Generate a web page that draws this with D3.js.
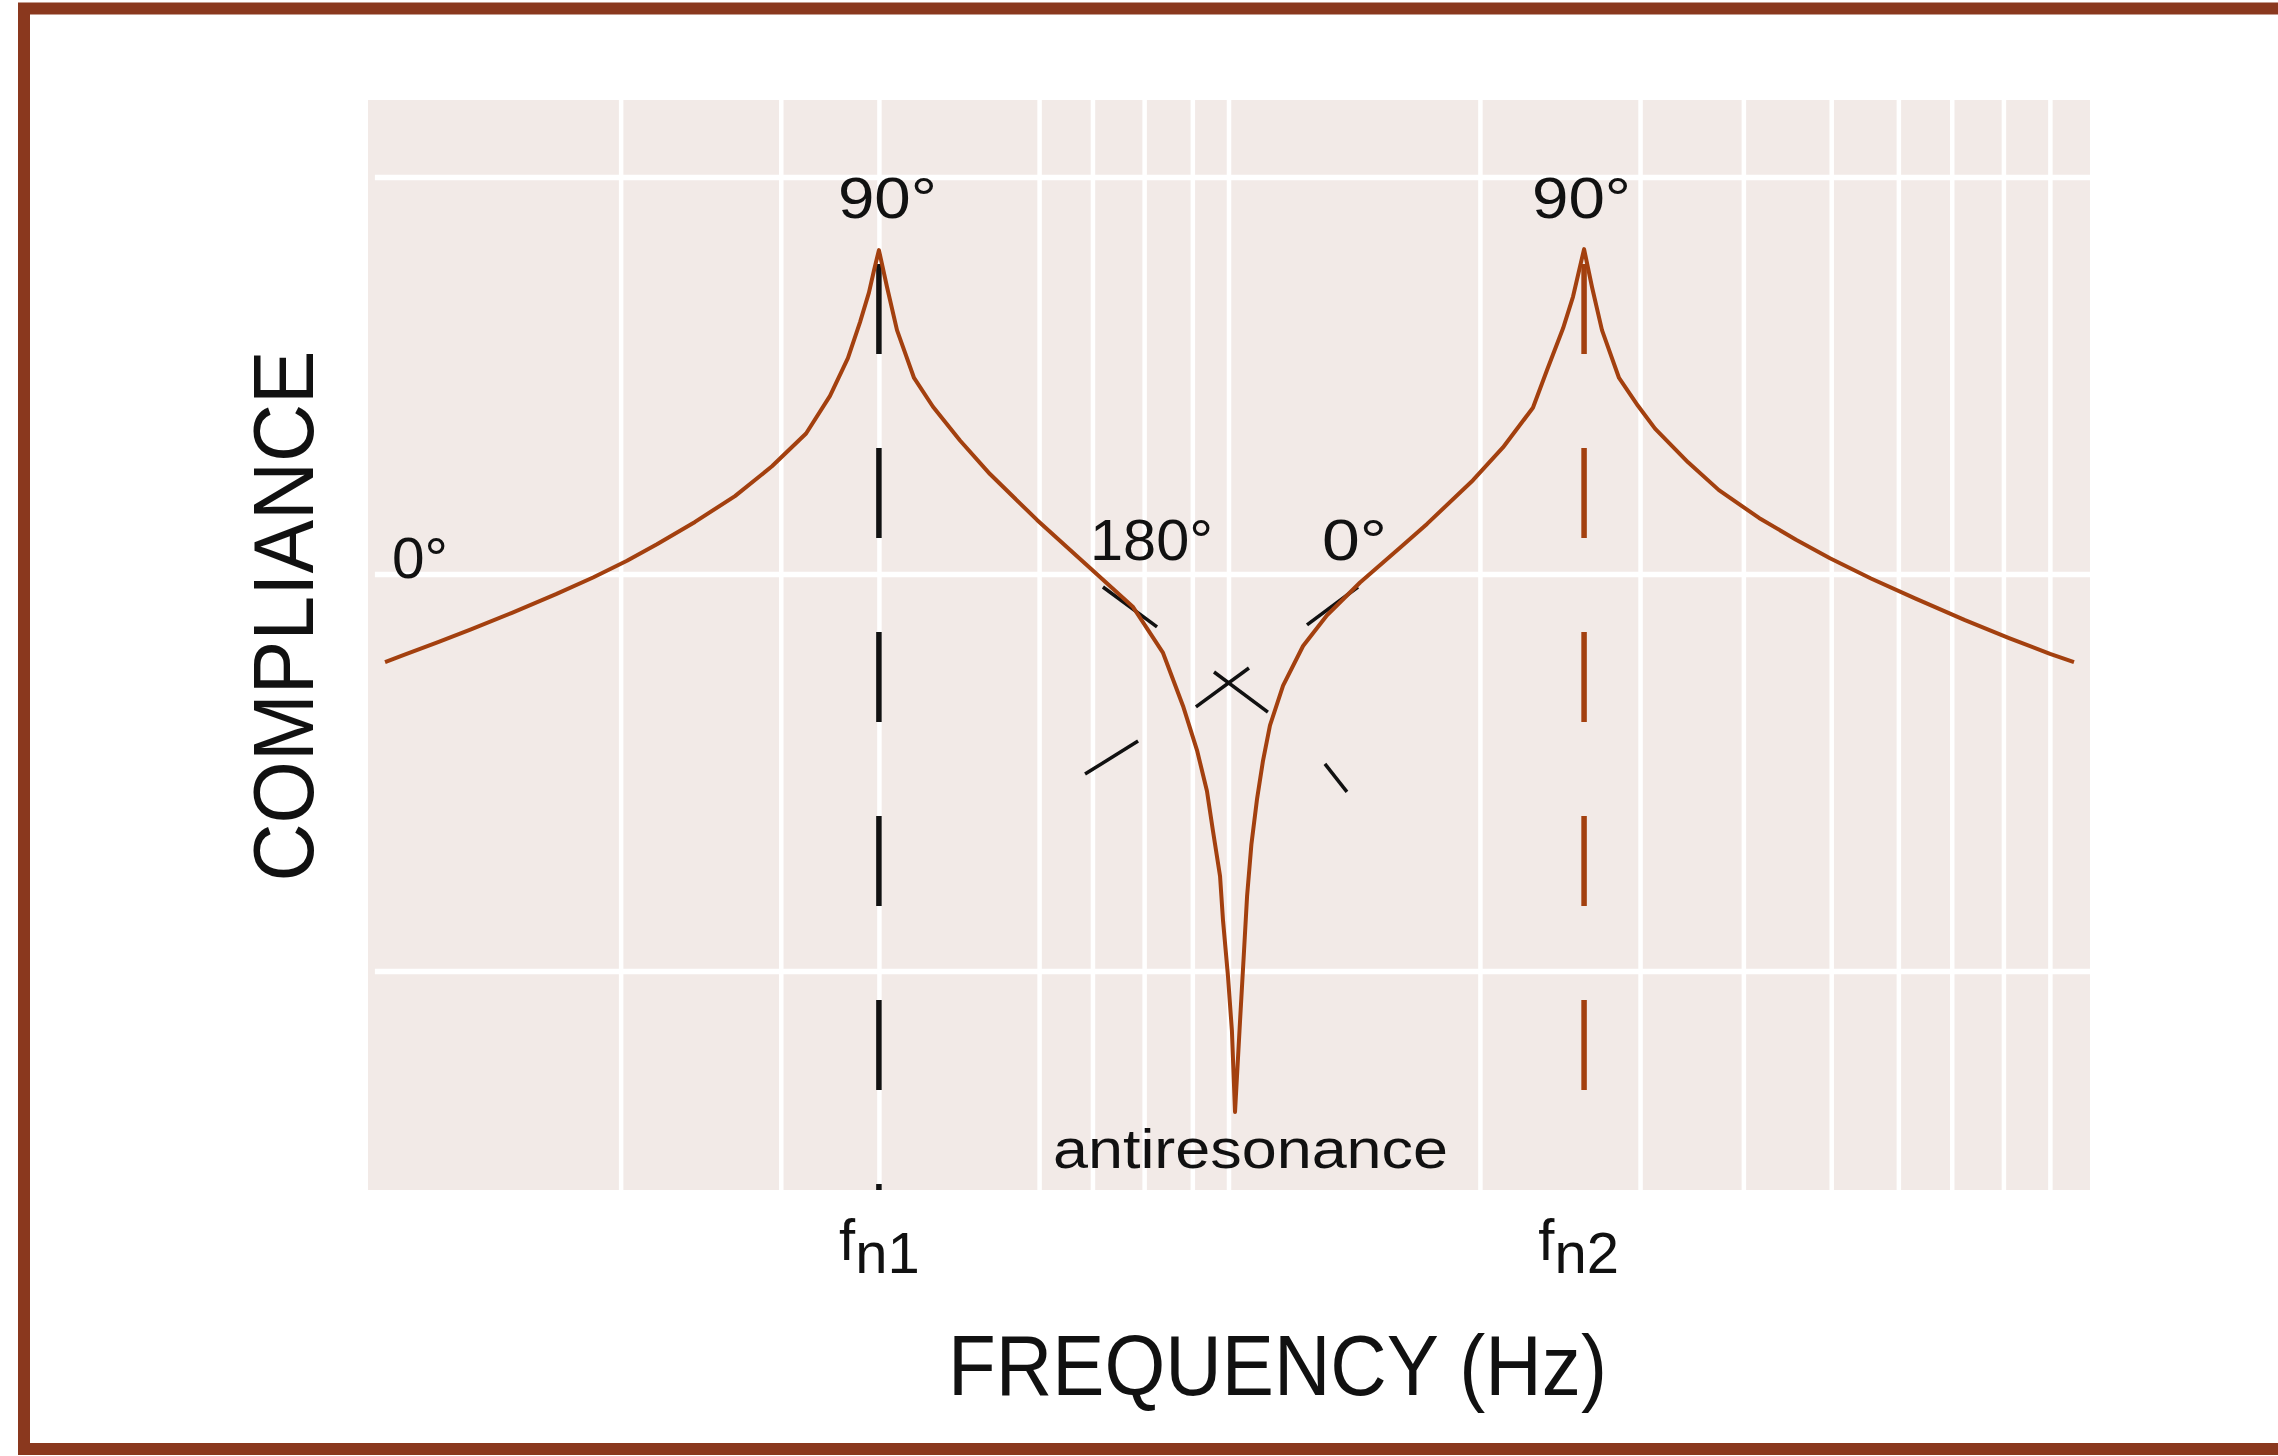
<!DOCTYPE html>
<html>
<head>
<meta charset="utf-8">
<script src="https://cdn.jsdelivr.net/npm/d3@7"></script>
<style>
body { margin: 0; background: #fff; }
svg { display: block; }
text { font-family: "Liberation Sans", Arial, sans-serif; fill: #111; }
</style>
</head>
<body>
<svg width="2278" height="1456"></svg>
<script>
// frequency in relative log units (0..100 across the plot), compliance in dB
var freqGrid = [14.7, 24.0, 29.7, 39.0, 42.1, 45.1, 47.9, 50.0, 64.6, 73.9, 79.9, 85.0, 88.9, 92.0, 95.0, 97.7];
var complianceGrid = [-20, 0, 20];

// compliance curve
var freq = [0.99, 2.09, 4.07, 5.98, 8.36, 10.92, 13.07, 15.04, 16.78, 18.99, 21.31, 23.46, 25.44, 26.83, 27.87, 28.57, 29.09, 29.38, 29.67,
            30.14, 30.72, 31.71, 32.81, 34.38, 36.12, 38.85, 41.93, 44.43, 46.17, 47.33, 48.14, 48.72, 49.07, 49.48, 49.65, 49.94, 50.17, 50.35,
            50.64, 50.87, 51.05, 51.30, 51.63, 51.97, 52.38, 53.14, 54.30, 55.69, 57.61, 59.93, 61.50, 64.17, 65.91, 67.65, 68.47, 69.40, 69.98, 70.62,
            71.08, 71.66, 72.65, 73.75, 74.74, 76.66, 78.45, 80.78, 82.93, 84.90, 87.28, 89.84, 92.74, 95.30, 97.68, 99.07];
var compliance = [-4.41, -4.05, -3.40, -2.76, -1.93, -0.99, -0.15, 0.69, 1.52, 2.65, 3.95, 5.45, 7.10, 9.0, 10.9, 12.7, 14.2, 15.3, 16.34,
                  14.48, 12.31, 9.9, 8.45, 6.75, 5.06, 2.75, 0.33, -1.64, -3.95, -6.62, -8.84, -10.90, -12.92, -15.19, -17.40, -20.22, -22.99, -27.07,
                  -22.5, -19.0, -16.2, -13.6, -11.3, -9.4, -7.6, -5.6, -3.6, -2.05, -0.4, 1.35, 2.55, 4.75, 6.4, 8.4, 10.3, 12.4, 14.0, 16.39,
                  14.48, 12.31, 9.9, 8.5, 7.35, 5.65, 4.25, 2.85, 1.75, 0.82, -0.2, -1.2, -2.3, -3.2, -4.0, -4.41];

// natural frequencies fn1, fn2
var resonances = [29.67, 70.62];
var resonanceNames = ["1", "2"];

// little phase strokes round the antiresonance: [f1, c1, f2, c2]
var phaseMarks = [
  [42.68, -0.63, 45.82, -2.64],
  [54.53, -2.54, 57.49, -0.63],
  [48.08, -6.67, 51.16, -4.71],
  [49.13, -4.91, 52.26, -6.93],
  [41.64, -10.05, 44.72, -8.39],
  [55.57, -9.54, 56.85, -10.95]
];

// phase labels: text, freq, compliance
var phaseLabels = [
  ["90°", 27.29, 17.96],
  ["90°", 67.60, 17.96],
  ["0°", 1.39, -0.18],
  ["180°", 41.93, 0.73],
  ["0°", 55.40, 0.73],
  ["antiresonance", 39.78, -29.9]
];
var labelWidths = [99, 99, 56, 123, 65, 395];

var svg = d3.select("svg");

var x = d3.scaleLinear().domain([0, 100]).range([368, 2090]);
var y = d3.scaleLinear().domain([-31, 23.9]).range([1190, 100]);

// brown frame
svg.append("rect")
  .attr("x", 24)
  .attr("y", 8.5)
  .attr("width", 2300)
  .attr("height", 1440.5)
  .attr("fill", "none")
  .attr("stroke", "#8a381e")
  .attr("stroke-width", 12);

// plot background
svg.append("rect")
  .attr("x", x(0))
  .attr("y", y(23.9))
  .attr("width", x(100) - x(0))
  .attr("height", y(-31) - y(23.9))
  .attr("fill", "#f2eae7");

// grid
svg.selectAll(".vgrid")
  .data(freqGrid)
  .enter().append("line")
  .attr("x1", function(d) { return x(d); })
  .attr("x2", function(d) { return x(d); })
  .attr("y1", y(23.9))
  .attr("y2", y(-31))
  .attr("stroke", "#fff")
  .attr("stroke-width", 4.5);

svg.selectAll(".hgrid")
  .data(complianceGrid)
  .enter().append("line")
  .attr("x1", x(0.4))
  .attr("x2", x(100))
  .attr("y1", function(d) { return y(d); })
  .attr("y2", function(d) { return y(d); })
  .attr("stroke", "#fff")
  .attr("stroke-width", 5.5);

// dashed resonance lines
svg.append("line")
  .attr("x1", x(resonances[0]))
  .attr("x2", x(resonances[0]))
  .attr("y1", y(15.64))
  .attr("y2", y(-31))
  .attr("stroke", "#111")
  .attr("stroke-width", 5.5)
  .attr("stroke-dasharray", "90,94");

svg.append("line")
  .attr("x1", x(resonances[1]))
  .attr("x2", x(resonances[1]))
  .attr("y1", y(15.64))
  .attr("y2", y(-26.1))
  .attr("stroke", "#a3400f")
  .attr("stroke-width", 5.5)
  .attr("stroke-dasharray", "90,94");

// phase strokes
svg.selectAll(".phase")
  .data(phaseMarks)
  .enter().append("line")
  .attr("x1", function(d) { return x(d[0]); })
  .attr("y1", function(d) { return y(d[1]); })
  .attr("x2", function(d) { return x(d[2]); })
  .attr("y2", function(d) { return y(d[3]); })
  .attr("stroke", "#111")
  .attr("stroke-width", 3.5);

// compliance curve
var line = d3.line()
  .x(function(d, i) { return x(freq[i]); })
  .y(function(d, i) { return y(compliance[i]); });

svg.append("path")
  .attr("d", line(freq))
  .attr("fill", "none")
  .attr("stroke", "#a3400f")
  .attr("stroke-width", 4)
  .attr("stroke-linejoin", "round");

// labels inside the plot
svg.selectAll(".lab")
  .data(phaseLabels)
  .enter().append("text")
  .attr("x", function(d) { return x(d[1]); })
  .attr("y", function(d) { return y(d[2]); })
  .attr("font-size", function(d) { return d[0] == "antiresonance" ? 56 : 58; })
  .attr("textLength", function(d, i) { return labelWidths[i]; })
  .attr("lengthAdjust", "spacingAndGlyphs")
  .text(function(d) { return d[0]; });

// fn ticks on the frequency axis
var axis = d3.axisBottom(x).tickValues(resonances).tickSize(0).tickFormat("");
var ax = svg.append("g")
  .attr("transform", "translate(0," + y(-31) + ")")
  .call(axis);
ax.select(".domain").remove();

var lbl = ax.selectAll(".tick").append("text")
  .attr("y", 70)
  .attr("dx", function(d, i) { return i == 1 ? -6 : 0; })
  .attr("font-size", 58)
  .attr("text-anchor", "middle")
  .attr("fill", "#111");
lbl.append("tspan").text("f");
lbl.append("tspan")
  .attr("dy", 13)
  .text(function(d, i) { return "n" + resonanceNames[i]; });

// axis titles
svg.append("text")
  .attr("x", 948)
  .attr("y", 1395)
  .attr("font-size", 86)
  .attr("textLength", 659)
  .attr("lengthAdjust", "spacingAndGlyphs")
  .text("FREQUENCY (Hz)");

svg.append("text")
  .attr("transform", "translate(313,616) rotate(-90)")
  .attr("text-anchor", "middle")
  .attr("font-size", 86)
  .attr("textLength", 531)
  .attr("lengthAdjust", "spacingAndGlyphs")
  .text("COMPLIANCE");
</script>
</body>
</html>
